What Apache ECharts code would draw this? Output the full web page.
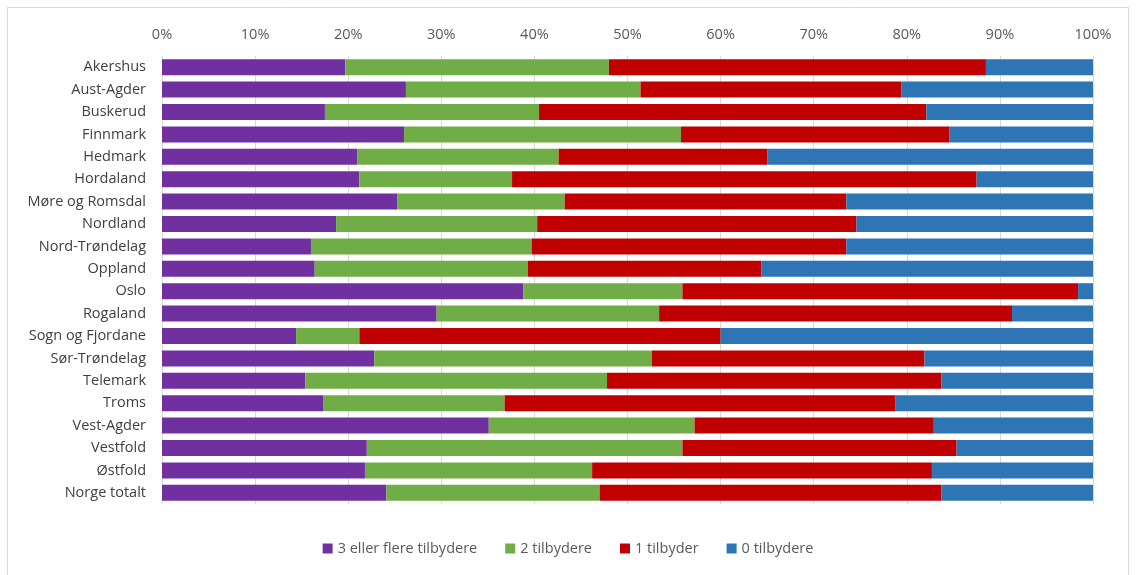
<!DOCTYPE html>
<html><head><meta charset="utf-8">
<script src="https://cdn.jsdelivr.net/npm/echarts@6/dist/echarts.min.js"></script>
<style>html,body{margin:0;padding:0;background:#fff}#c{width:1136px;height:575px}</style>
</head><body><div id="c"></div>
<script>
const categories = ["Akershus","Aust-Agder","Buskerud","Finnmark","Hedmark","Hordaland","Møre og Romsdal","Nordland","Nord-Trøndelag","Oppland","Oslo","Rogaland","Sogn og Fjordane","Sør-Trøndelag","Telemark","Troms","Vest-Agder","Vestfold","Østfold","Norge totalt"];
const seriesNames = ["3 eller flere tilbydere","2 tilbydere","1 tilbyder","0 tilbydere"];
const three = [19.7,26.2,17.5,26.0,21.0,21.2,25.3,18.7,16.0,16.4,38.8,29.5,14.4,22.8,15.4,17.3,35.1,22.0,21.8,24.1];
const two   = [28.3,25.2,23.0,29.75,21.6,16.4,17.95,21.6,23.7,22.9,17.1,23.9,6.8,29.8,32.4,19.5,22.1,33.9,24.4,22.9];
const one   = [40.5,28.0,41.6,28.85,22.4,49.9,30.25,34.3,33.8,25.1,42.5,37.9,38.8,29.3,35.9,42.0,25.7,29.45,36.5,36.7];
const zero  = [11.5,20.6,17.9,15.4,35.0,12.5,26.5,25.4,26.5,35.6,1.6,8.7,40.0,18.1,16.3,21.2,17.1,14.65,17.3,16.3];
const colors = ["#7030A0","#70AD47","#C00000","#2E75B6"];
const values = [three,two,one,zero];

const chart = echarts.init(document.getElementById('c'));
const font = "'Open Sans', 'Noto Sans', sans-serif";
chart.setOption({
  animation:false,
  textStyle:{fontFamily:font},
  graphic:[{type:'rect',shape:{x:7.5,y:7.5,width:1121,height:580},style:{fill:'none',stroke:'#d9d9d9',lineWidth:1},silent:true}],
  grid:{left:162,right:43,top:56,bottom:71,containLabel:false},
  legend:{bottom:14,left:'center',itemWidth:10,itemHeight:10,itemGap:28,icon:'rect',
    textStyle:{color:'#595959',fontSize:14.5,fontFamily:font},data:seriesNames},
  xAxis:{type:'value',position:'top',min:0,max:100,interval:10,
    axisLabel:{formatter:'{value}%',color:'#595959',fontSize:14.5,margin:14},
    axisLine:{show:false},axisTick:{show:false},
    splitLine:{show:true,lineStyle:{color:'#d9d9d9',width:1}}},
  yAxis:{type:'category',inverse:true,data:categories,
    axisLine:{show:true,lineStyle:{color:'#d9d9d9'}},axisTick:{show:false},
    axisLabel:{color:'#404040',fontSize:14.5,margin:16}},
  series: seriesNames.map((n,i)=>({name:n,type:'bar',stack:'s',data:values[i],barWidth:16,
    itemStyle:{color:colors[i]}}))
});
</script></body></html>
